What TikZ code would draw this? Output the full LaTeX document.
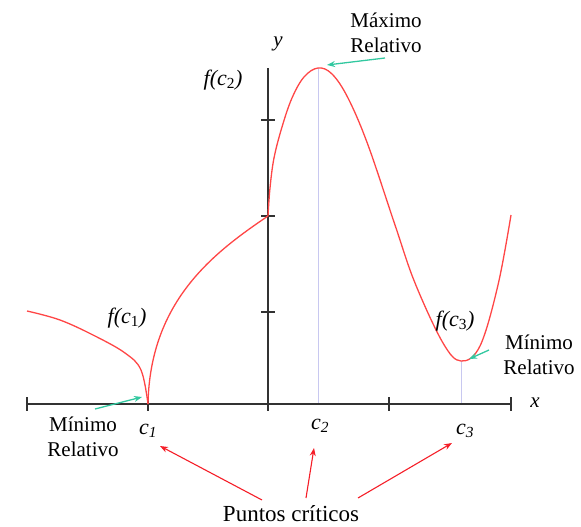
\documentclass[tikz,border=0pt]{standalone}
\usepackage{fontspec}
\setmainfont{Liberation Serif}
\usetikzlibrary{arrows.meta}
\definecolor{curvered}{RGB}{255,70,70}
\definecolor{arrowred}{RGB}{245,30,40}
\definecolor{mingreen}{RGB}{50,200,160}
\definecolor{axisgray}{RGB}{50,50,50}
\definecolor{guide}{RGB}{200,200,240}
\tikzset{
  axisline/.style={axisgray, line width=1.4pt},
  tickmark/.style={axisgray, line width=1.4pt},
  guideline/.style={guide, line width=1pt},
  fcurve/.style={curvered, line width=1.3pt},
  greenarrow/.style={mingreen, line width=1.3pt, -{Stealth[length=8pt,width=6pt]}},
  redarrow/.style={arrowred, line width=1.1pt, -{Stealth[length=8pt,width=6pt]}},
  lbl/.style={font=\fontsize{21}{25}\selectfont, align=center, inner sep=0pt},
  plbl/.style={font=\fontsize{23}{25}\selectfont, inner sep=0pt},
  mlbl/.style={font=\fontsize{22}{24}\selectfont\itshape, inner sep=0pt},
}
\begin{document}
\begin{tikzpicture}[x=1pt,y=-1pt]
\useasboundingbox (0,0) rectangle (581,527);
% guides
\coordinate (maxpt) at (318,68);
\coordinate (minpt) at (461,361);
\coordinate (c1pt) at (148,404);
\coordinate (ypt) at (268,216);
\coordinate (c2base) at (318,404);
\coordinate (c3base) at (461,404);
\draw[guideline] (maxpt) -- (c2base);
\draw[guideline] (minpt) -- (c3base);
% axes
\coordinate (xl) at (27,404);
\coordinate (xr) at (511,404);
\coordinate (yb) at (268,404);
\coordinate (yt) at (268,68);
\draw[axisline] (xl) -- (xr);
\draw[axisline] (yb) -- (yt);
\foreach \xx in {27,148,268,389,511} \draw[tickmark] (\xx,397) -- (\xx,411);
\foreach \yy in {120,216,312} \draw[tickmark] (261,\yy) -- (275,\yy);
% curve
\draw[fcurve] plot[smooth, tension=0.6] coordinates {(27,311) (60,320) (95,336) (125,353) (141,370) (148,404)};
\draw[fcurve] (c1pt) .. controls (150,300) and (215,252) .. (ypt);
\draw[fcurve] plot[smooth, tension=0.6] coordinates {(268,216) (270,188) (274,158) (282,127) (292,98) (304,77) (318,68)
  (332,74) (348,98) (368,145) (395,225) (415,283) (443,343) (461,361) (480,346) (498,285) (511,215)};
% labels
\node[lbl] (xlab) at (535,403) {\textit{x}};
\node[lbl] (ylab) at (278,44) {\textit{y}};
\node[mlbl] (fc2) at (223,80) {f(c\textsubscript{\upshape 2})};
\node[mlbl] (fc1) at (127,318) {f(c\textsubscript{\upshape 1})};
\node[mlbl] (fc3) at (455,321) {f(c\textsubscript{\upshape 3})};
\node[mlbl] (c1) at (148,431) {c\textsubscript{1}};
\node[mlbl] (c2) at (320,426) {c\textsubscript{2}};
\node[mlbl] (c3) at (465,431) {c\textsubscript{3}};
\node[lbl] (maxlab) at (386,33) {Máximo\\Relativo};
\node[lbl] (minl) at (83,437) {Mínimo\\Relativo};
\node[lbl] (minr) at (539,355) {Mínimo\\Relativo};
\node[plbl] (pc) at (291,514) {Puntos críticos};
% green arrows
\coordinate (g1s) at (385,58);
\coordinate (g1e) at (327,65);
\coordinate (g2s) at (95,409);
\coordinate (g2e) at (142,397);
\coordinate (g3s) at (489,350);
\coordinate (g3e) at (469,359);
\draw[greenarrow] (g1s) -- (g1e);
\draw[greenarrow] (g2s) -- (g2e);
\draw[greenarrow] (g3s) -- (g3e);
% red arrows
\coordinate (r1s) at (262,500);
\coordinate (r1e) at (160,446);
\coordinate (r2s) at (306,498);
\coordinate (r2e) at (314,448);
\coordinate (r3s) at (358,498);
\coordinate (r3e) at (452,443);
\draw[redarrow] (r1s) -- (r1e);
\draw[redarrow] (r2s) -- (r2e);
\draw[redarrow] (r3s) -- (r3e);
\end{tikzpicture}
\end{document}
